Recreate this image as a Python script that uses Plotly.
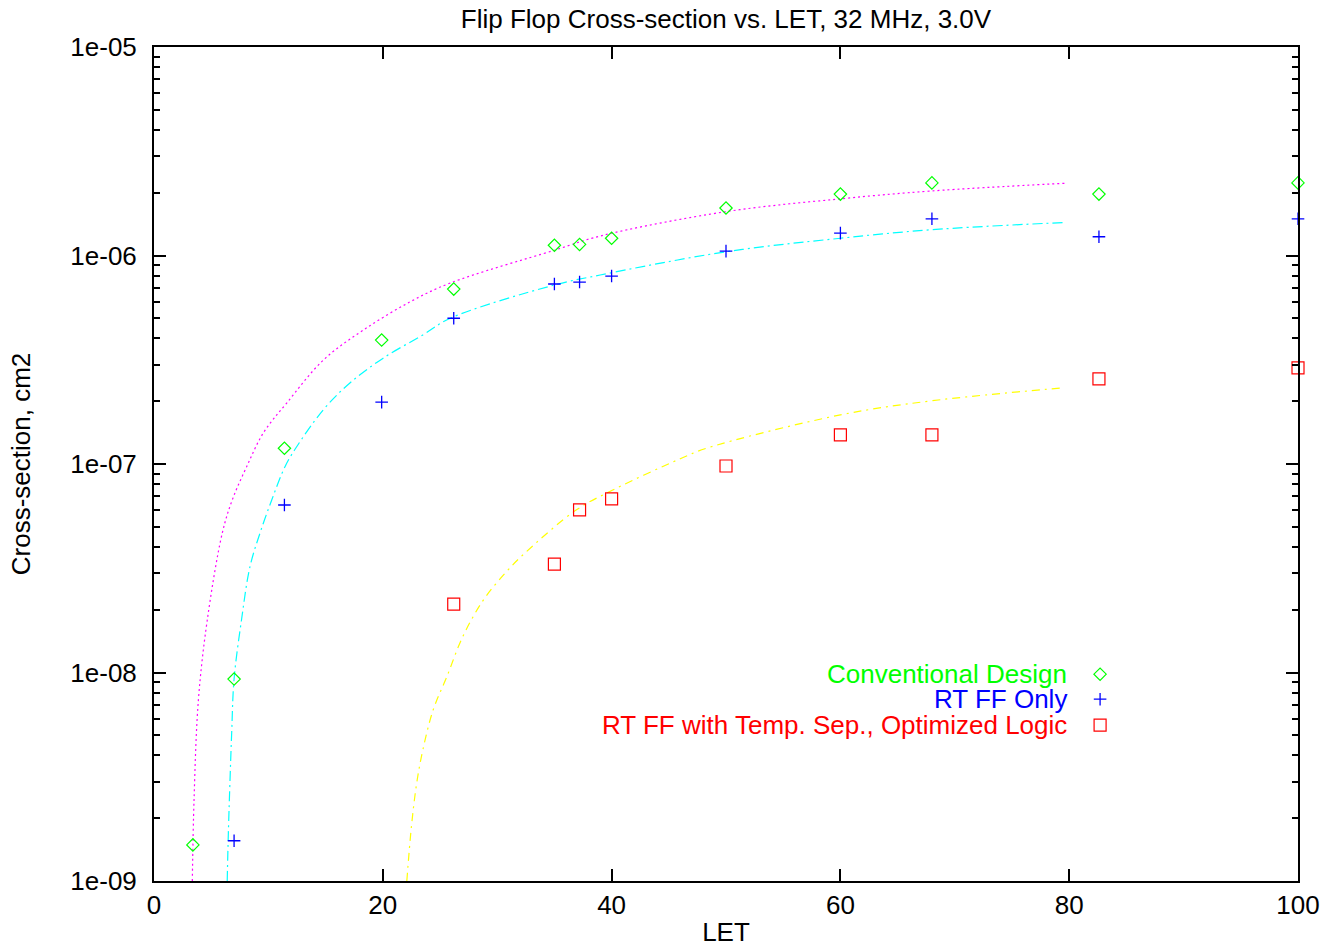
import plotly.graph_objects as go

# ---------------- data ----------------
let_conv = [3.4, 7.0, 11.4, 19.9, 26.2, 35.0, 37.2, 40.0, 50.0, 60.0, 68.0, 82.6, 100.0]
xs_conv = [1.49e-9, 9.3e-9, 1.19e-7, 3.93e-7, 6.9e-7, 1.12e-6, 1.13e-6, 1.21e-6,
           1.69e-6, 1.97e-6, 2.23e-6, 1.97e-6, 2.23e-6]

let_rt = [7.0, 11.4, 19.9, 26.2, 35.0, 37.2, 40.0, 50.0, 60.0, 68.0, 82.6, 100.0]
xs_rt = [1.56e-9, 6.36e-8, 1.98e-7, 5.0e-7, 7.3e-7, 7.46e-7, 7.97e-7,
         1.05e-6, 1.28e-6, 1.50e-6, 1.23e-6, 1.50e-6]

let_opt = [26.2, 35.0, 37.2, 40.0, 50.0, 60.0, 68.0, 82.6, 100.0]
xs_opt = [2.13e-8, 3.31e-8, 6.02e-8, 6.8e-8, 9.78e-8, 1.38e-7, 1.38e-7, 2.56e-7, 2.89e-7]

# fit curves, points
fit_conv_x = [3.35, 3.5, 3.88, 4.66, 5.97, 6.84, 8.10, 9.56, 11.6, 14.8, 18.3,
              22.4, 25.9, 35.0, 39.0, 49.9, 60.0, 68.0, 79.6]
fit_conv_y = [1.0e-9, 2.45e-9, 7.38e-9, 1.79e-8, 4.67e-8, 6.72e-8, 9.71e-8,
              1.41e-7, 1.96e-7, 3.15e-7, 4.39e-7, 6.0e-7, 7.38e-7, 1.06e-6, 1.24e-6,
              1.62e-6, 1.87e-6, 2.04e-6, 2.22e-6]

fit_rt_x = [6.4, 6.5, 6.79, 7.0, 7.65, 8.39, 9.27, 10.29, 11.45, 12.3, 14.8, 17.1,
            20.0, 23.5, 25.9, 35.0, 39.0, 49.9, 60.0, 68.0, 79.6]
fit_rt_y = [1.0e-9, 1.7e-9, 5.13e-9, 9.3e-9, 1.79e-8, 3.22e-8, 4.67e-8, 6.72e-8,
            9.71e-8, 1.17e-7, 1.82e-7, 2.44e-7, 3.21e-7, 4.16e-7, 5.0e-7, 7.22e-7,
            8.06e-7, 1.04e-6, 1.21e-6, 1.33e-6, 1.44e-6]

fit_opt_x = [22.1, 22.5, 22.96, 23.5, 24.4, 25.6, 27.0, 28.8, 30.8, 32.4, 36.9, 40.1,
             46.0, 48.3, 60.0, 68.0, 79.5]
fit_opt_y = [1.0e-9, 1.82e-9, 2.94e-9, 4.25e-9, 6.61e-9, 9.55e-9, 1.49e-8, 2.23e-8,
             3.04e-8, 3.73e-8, 6.01e-8, 7.5e-8, 1.06e-7, 1.19e-7, 1.72e-7, 2.01e-7, 2.32e-7]

x_ticks = [0, 20, 40, 60, 80, 100]
y_ticks = [1e-9, 1e-8, 1e-7, 1e-6, 1e-5]
y_ticktext = ["1e-09", "1e-08", "1e-07", "1e-06", "1e-05"]
y_minor = [m * 10.0 ** e for e in range(-9, -5) for m in range(2, 10)]

series_names = ["Conventional Design", "RT FF Only", "RT FF with Temp. Sep., Optimized Logic"]

FONT = "Liberation Sans, Arial, Helvetica, sans-serif"
FS = 26

W, H = 1332, 947
ML, MR, MT, MB = 154, 34, 47, 66

sym_conv = dict(symbol="diamond-open", size=9.5, color="#00ff00", line=dict(width=1.2))
sym_rt = dict(symbol="cross-thin-open", size=9, color="#0000ff",
              line=dict(width=1.3, color="#0000ff"))
sym_opt = dict(symbol="square-open", size=12, color="#ff0000", line=dict(width=1.2))

fig = go.Figure()

# fit lines
fig.add_trace(go.Scatter(x=fit_conv_x, y=fit_conv_y, mode="lines", line_shape="spline",
                         line=dict(color="#ff00ff", width=1.2, dash="2px,3px"),
                         showlegend=False, hoverinfo="skip"))
fig.add_trace(go.Scatter(x=fit_rt_x, y=fit_rt_y, mode="lines", line_shape="spline",
                         line=dict(color="#00ffff", width=1.2, dash="10px,4px,2px,4px"),
                         showlegend=False, hoverinfo="skip"))
fig.add_trace(go.Scatter(x=fit_opt_x, y=fit_opt_y, mode="lines", line_shape="spline",
                         line=dict(color="#ffff00", width=1.2, dash="8px,5px,2px,5px"),
                         showlegend=False, hoverinfo="skip"))

# data points
fig.add_trace(go.Scatter(x=let_conv, y=xs_conv, mode="markers", name=series_names[0],
                         marker=sym_conv, cliponaxis=False, showlegend=False))
fig.add_trace(go.Scatter(x=let_rt, y=xs_rt, mode="markers", name=series_names[1],
                         marker=sym_rt, cliponaxis=False, showlegend=False))
fig.add_trace(go.Scatter(x=let_opt, y=xs_opt, mode="markers", name=series_names[2],
                         marker=sym_opt, cliponaxis=False, showlegend=False))

# ----- gnuplot-style key (text right aligned, sample at right) -----
key_colors = ["#00ff00", "#0000ff", "#ff0000"]
key_y = [0.248, 0.218, 0.187]
key_text_x = 0.7995
key_sym_x = 0.827
for name, col, ky in zip(series_names, key_colors, key_y):
    fig.add_annotation(x=key_text_x, y=ky, xref="paper", yref="paper", text=name,
                       showarrow=False, xanchor="right", yanchor="middle",
                       font=dict(family=FONT, size=FS, color=col))
# key samples on a hidden overlay axis spanning the plot area
for sym, ky in zip([sym_conv, sym_rt, sym_opt], key_y):
    fig.add_trace(go.Scatter(x=[key_sym_x], y=[ky], xaxis="x2", yaxis="y2",
                             mode="markers", marker=sym, showlegend=False,
                             hoverinfo="skip", cliponaxis=False))

fig.update_layout(
    width=W, height=H,
    margin=dict(l=ML, r=MR, t=MT, b=MB, autoexpand=False),
    paper_bgcolor="white", plot_bgcolor="white",
    font=dict(family=FONT, size=FS, color="black"),
    title=dict(text="Flip Flop Cross-section vs. LET, 32 MHz, 3.0V",
               x=(ML + 572) / W, xanchor="center", xref="container",
               y=1 - 19 / H, yanchor="middle", yref="container",
               font=dict(family=FONT, size=FS, color="black")),
    showlegend=False,
    xaxis2=dict(range=[0, 1], overlaying="x", visible=False, fixedrange=True,
                automargin=False),
    yaxis2=dict(range=[0, 1], overlaying="y", visible=False, fixedrange=True,
                automargin=False),
)

fig.layout.xaxis.update(
    range=[0, 100], tickvals=x_ticks, ticks="inside", ticklen=12, tickwidth=2,
    tickcolor="black", showline=True, linecolor="black", linewidth=2, mirror="allticks",
    showgrid=False, zeroline=False, automargin=False,
    title=dict(text="LET", font=dict(family=FONT, size=FS), standoff=4),
    tickfont=dict(family=FONT, size=FS),
)
fig.layout.yaxis.update(
    type="log", range=[-9, -5], tickvals=y_ticks, ticktext=y_ticktext,
    ticks="inside", ticklen=12, tickwidth=2, tickcolor="black",
    showline=True, linecolor="black", linewidth=2, mirror="allticks",
    showgrid=False, zeroline=False, ticklabelstandoff=10, automargin=False,
    minor=dict(tickmode="array", tickvals=y_minor, ticks="inside", ticklen=6,
               tickwidth=2, tickcolor="black", showgrid=False),
    title=dict(text="Cross-section, cm2", font=dict(family=FONT, size=FS), standoff=32),
    tickfont=dict(family=FONT, size=FS),
)

# remove the default page margin so the figure sits exactly in the window
fig.write_html("out.html",
               config={"displayModeBar": False},
               post_script="document.body.style.margin='0px';"
                           "document.body.style.overflow='hidden';")
